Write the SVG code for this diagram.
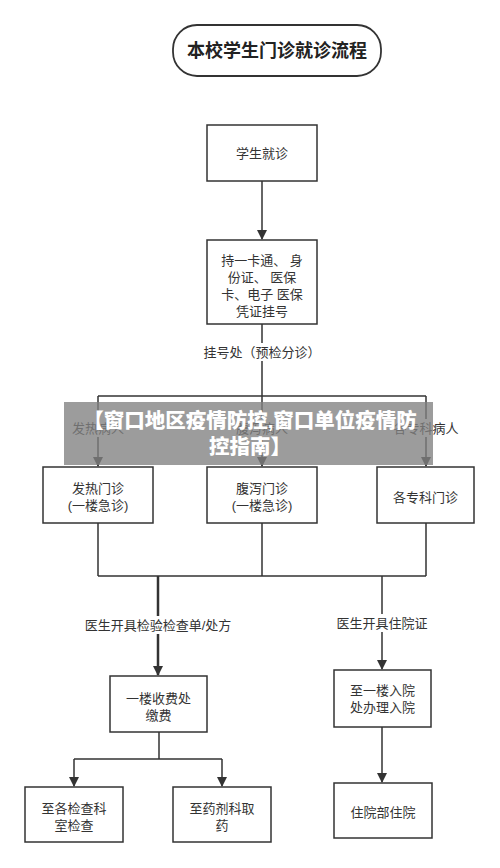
<svg xmlns="http://www.w3.org/2000/svg" width="500" height="868" viewBox="0 0 500 868">
<defs>
<marker id="arr" markerWidth="10" markerHeight="10" refX="9" refY="5" orient="auto" markerUnits="userSpaceOnUse">
<path d="M0,0 L10,5 L0,10 z" fill="#333"/>
</marker>
<style>
.box{fill:#fff;stroke:#333;stroke-width:1.5}
.t{font-family:"Liberation Sans","Noto Sans CJK SC",sans-serif;font-size:13px;fill:#333;text-anchor:middle;dominant-baseline:central}
.ln{fill:none;stroke:#333;stroke-width:1.5}
.lbl{fill:#fff}
</style>
</defs>
<rect width="500" height="868" fill="#fff"/>
<g id="title">
<rect x="173" y="25" width="208" height="51" rx="24" ry="24" fill="#fff" stroke="#333" stroke-width="1.8"/>
<text x="277" y="51" class="t" style="font-size:18px;font-weight:bold;fill:#222">本校学生门诊就诊流程</text>
</g>
<g id="connectors">
<path class="ln" d="M262,181 V239" marker-end="url(#arr)"/>
<path class="ln" d="M262,324 V396"/>
<path class="ln" d="M98,396 H426"/>
<path class="ln" d="M98,396 V466" marker-end="url(#arr)"/>
<path class="ln" d="M262,396 V466" marker-end="url(#arr)"/>
<path class="ln" d="M426,396 V466" marker-end="url(#arr)"/>
<path class="ln" d="M98,523 V576 M262,523 V576 M426,523 V576 M98,576 H426"/>
<path class="ln" style="stroke-width:2.5" d="M158,576 V675" marker-end="url(#arr)"/>
<path class="ln" d="M382,576 V669" marker-end="url(#arr)"/>
<path class="ln" d="M159,732 V759 M74,759 H222"/>
<path class="ln" d="M74,759 V786" marker-end="url(#arr)"/>
<path class="ln" d="M222,759 V786" marker-end="url(#arr)"/>
<path class="ln" d="M382,727 V782" marker-end="url(#arr)"/>
<rect class="lbl" x="200" y="343" width="124" height="18"/>
<text x="262" y="352" class="t">挂号处（预检分诊）</text>
<rect class="lbl" x="68" y="419" width="60" height="18"/>
<text x="98" y="428" class="t">发热病人</text>
<rect class="lbl" x="232" y="419" width="60" height="18"/>
<text x="262" y="428" class="t">腹泻病人</text>
<rect class="lbl" x="392" y="419" width="68" height="18"/>
<text x="426" y="428" class="t">各专科病人</text>
<rect class="lbl" x="82" y="616" width="152" height="18"/>
<text x="158" y="625" class="t">医生开具检验检查单/处方</text>
<rect class="lbl" x="335" y="614" width="94" height="18"/>
<text x="382" y="623" class="t">医生开具住院证</text>
</g>
<g id="n1"><rect class="box" x="207" y="125" width="110" height="56"/><text x="262" y="153" class="t">学生就诊</text></g>
<g id="n2"><rect class="box" x="207" y="240" width="110" height="84"/>
<text class="t"><tspan x="262" y="260">持一卡通、 身</tspan><tspan x="262" y="277">份证、 医保</tspan><tspan x="262" y="294">卡、电子 医保</tspan><tspan x="262" y="311">凭证挂号</tspan></text></g>
<g id="n3"><rect class="box" x="43" y="467" width="110" height="56"/>
<text class="t"><tspan x="98" y="488">发热门诊</tspan><tspan x="98" y="505">(一楼急诊)</tspan></text></g>
<g id="n4"><rect class="box" x="207" y="467" width="110" height="56"/>
<text class="t"><tspan x="262" y="488">腹泻门诊</tspan><tspan x="262" y="505">(一楼急诊)</tspan></text></g>
<g id="n5"><rect class="box" x="377" y="467" width="97" height="56"/><text x="425.5" y="497" class="t">各专科门诊</text></g>
<g id="n6"><rect class="box" x="110" y="676" width="97" height="56"/>
<text class="t"><tspan x="158.5" y="698">一楼收费处</tspan><tspan x="158.5" y="715">缴费</tspan></text></g>
<g id="n7"><rect class="box" x="334" y="670" width="97" height="57"/>
<text class="t"><tspan x="382.5" y="690">至一楼入院</tspan><tspan x="382.5" y="707">处办理入院</tspan></text></g>
<g id="n8"><rect class="box" x="25" y="787" width="98" height="55"/>
<text class="t"><tspan x="74" y="808">至各检查科</tspan><tspan x="74" y="825">室检查</tspan></text></g>
<g id="n9"><rect class="box" x="173" y="787" width="98" height="55"/>
<text class="t"><tspan x="222" y="808">至药剂科取</tspan><tspan x="222" y="825">药</tspan></text></g>
<g id="n10"><rect class="box" x="334" y="783" width="98" height="55"/><text x="383" y="812" class="t">住院部住院</text></g>
<g id="banner">
<rect x="64" y="402" width="369" height="63" fill="#808080" fill-opacity="0.78"/>
<text class="t" style="font-size:20.5px;font-weight:900;fill:#fff"><tspan x="250" y="420">【窗口地区疫情防控,窗口单位疫情防</tspan><tspan x="250" y="446">控指南】</tspan></text>
</g>
</svg>
